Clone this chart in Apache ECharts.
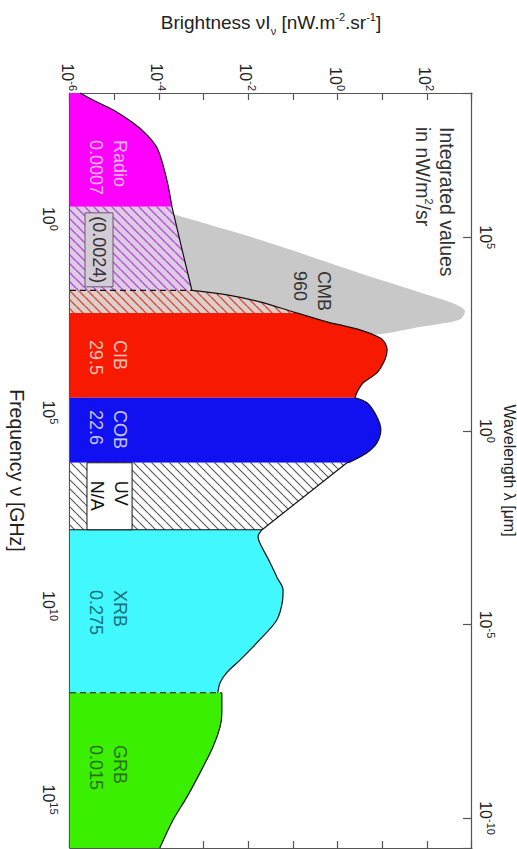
<!DOCTYPE html>
<html>
<head>
<meta charset="utf-8">
<script src="https://cdn.jsdelivr.net/npm/echarts@6/dist/echarts.min.js"></script>
<style>
  html, body { margin: 0; padding: 0; background: #fff; overflow: hidden; width: 517px; height: 849px; }
  /* the figure is laid out landscape and turned a quarter turn clockwise */
  #chart { position: absolute; left: 0; top: 0; width: 849px; height: 517px;
           transform-origin: 0 0; transform: translate(517px, 0) rotate(90deg); }
</style>
</head>
<body>
<div id="chart"></div>
<script>
// Cosmic background spectrum.
// x: log10 of frequency nu [GHz], y: log10 of nu*I_nu [nW m^-2 sr^-1]
const logFreqRange = [-3.25, 16.25];
const logBrightRange = [-6, 3];
const LOG_C_UM_GHZ = Math.log10(2.998e5);   // lambda[um] = c / nu[GHz]

const freqLabelStep = 5;     // labelled decades on the frequency axis
const brightLabelStep = 2;   // labelled decades on the brightness axis
const waveLabelStep = 5;     // labelled decades on the wavelength axis

const cmb = [[-0.90, -6.00], [-0.103, -3.649], [0.542, -1.747], [1.403, 0.492], [2.092, 2.357],
             [2.265, 2.731], [2.394, 2.843], [2.565, 2.769], [2.652, 2.581], [2.823, 1.685],
             [2.952, 1.090], [3.10, 0.00], [3.30, -2.00], [3.50, -6.00]];
const radio = [[-3.25, -5.776], [-3.07, -5.485], [-2.815, -5.037], [-2.48, -4.59], [-2.17, -4.276],
               [-1.834, -4.052], [-1.395, -3.918], [-0.878, -3.806], [-0.31, -3.717]];
const radioExtra = [[-0.31, -3.717], [0.80, -3.49], [1.85, -3.27]];
const cibExtra = [[1.85, -3.27], [1.963, -2.485], [2.144, -1.747], [2.402, -1.008], [2.43, -0.925]];
const cib = [[2.43, -0.925], [2.66, -0.247], [2.867, 0.492], [3.07, 0.94], [3.20, 1.05], [3.38, 1.10],
             [3.64, 1.05], [3.98, 0.87], [4.24, 0.56], [4.47, 0.43], [4.62, 0.38]];
const cob = [[4.62, 0.38], [4.75, 0.65], [5.11, 0.87], [5.45, 0.96], [5.79, 0.87], [6.04, 0.65],
             [6.28, 0.27], [6.30, 0.20]];
const uv = [[6.30, 0.20], [8.03, -1.70]];
const xrb = [[8.03, -1.70], [8.21, -1.79], [8.37, -1.75], [8.88, -1.52], [9.25, -1.37], [9.58, -1.23],
             [9.85, -1.24], [10.36, -1.37], [10.87, -1.75], [11.39, -2.19], [11.72, -2.49],
             [11.98, -2.64], [12.24, -2.69]];
const grb = [[12.24, -2.60], [12.76, -2.60], [13.12, -2.64], [13.64, -2.80], [14.31, -3.09],
             [14.93, -3.38], [15.52, -3.69], [16.25, -3.99]];

// integrated intensities, nW/m^2/sr
const bandNames  = ['Radio', 'CMB', 'CIB', 'COB', 'UV', 'XRB', 'GRB'];
const bandValues = ['0.0007', '960', '29.5', '22.6', 'N/A', '0.275', '0.015'];
const radioExtraValue = '(0.0024)';

// boxed annotations: [logNu0, logI0, logNu1, logI1]
const boxes = [[-0.155, -5.664, 1.756, -5.037], [6.30, -5.62, 8.03, -4.61]];

const FONT = '"Liberation Sans", Arial, Helvetica, sans-serif';

function hatch(bg, fg, size, lw) {
  const c = document.createElement('canvas');
  c.width = size; c.height = size;
  const g = c.getContext('2d');
  g.fillStyle = bg; g.fillRect(0, 0, size, size);
  g.strokeStyle = fg; g.lineWidth = lw;
  for (let k = -1; k <= 1; k++) {
    g.beginPath(); g.moveTo(k * size, size); g.lineTo(k * size + size, 0); g.stroke();
  }
  return { image: c, repeat: 'repeat' };
}

function band(name, data, fill, line) {
  return {
    type: 'line', name: name, data: data, symbol: 'none', smooth: 0.3,
    silent: true, animation: false,
    lineStyle: line === false ? { width: 0, opacity: 0 } : { color: '#111', width: 1.2 },
    areaStyle: { color: fill, opacity: 1, origin: 'start' }
  };
}

function edge(x, top, dashed) {
  return {
    type: 'line', data: [[x, logBrightRange[0]], [x, top]], symbol: 'none', silent: true, animation: false,
    lineStyle: { color: '#111', width: 1.2, type: dashed ? [6, 4] : 'solid' }
  };
}

const supRich = {
  b: { fontSize: 16, fontFamily: FONT, color: '#222', padding: [6, 0, 0, 0] },
  s: { fontSize: 11, fontFamily: FONT, color: '#222', padding: [0, 0, 6, 0] }
};
function powLabel(step) {
  return function (v) {
    const r = Math.round(v);
    if (Math.abs(v - r) > 1e-6 || r % step !== 0) return '';
    return '{b|10}{s|' + r + '}';
  };
}

function bandLabel(i, x, color) {
  return { type: 'text', x: x, y: 409, z: 100, silent: true,
    style: { text: bandNames[i] + '\n' + bandValues[i], fill: color, font: '18px ' + FONT,
             align: 'left', verticalAlign: 'middle', lineHeight: 24 } };
}

const chart = echarts.init(document.getElementById('chart'), null, { renderer: 'svg' });

const option = {
  animation: false,
  backgroundColor: '#fff',
  grid: { left: 93, right: 1, top: 45, bottom: 70, containLabel: false, outerBoundsMode: 'none' },
  xAxis: [
    {
      type: 'value', position: 'bottom', min: logFreqRange[0], max: logFreqRange[1],
      minInterval: 1, maxInterval: 1,
      name: 'Frequency \u03bd [GHz]', nameLocation: 'middle', nameGap: 43,
      nameTextStyle: { fontSize: 19.5, fontFamily: FONT, color: '#222' },
      axisLine: { show: true, onZero: false, lineStyle: { color: '#555', width: 1.2 } },
      axisTick: { show: true, inside: true, length: 8, lineStyle: { color: '#555', width: 1.2 } },
      axisLabel: { margin: 8, formatter: powLabel(freqLabelStep), rich: supRich },
      splitLine: { show: false }
    },
    {
      type: 'value', position: 'top', inverse: true,
      min: LOG_C_UM_GHZ - logFreqRange[1], max: LOG_C_UM_GHZ - logFreqRange[0],
      minInterval: 5, maxInterval: 5,
      name: 'Wavelength \u03bb [\u03bcm]', nameLocation: 'middle', nameGap: 26,
      nameTextStyle: { fontSize: 16, fontFamily: FONT, color: '#222' },
      axisLine: { show: true, onZero: false, lineStyle: { color: '#555', width: 1.2 } },
      axisTick: { show: true, inside: true, length: 9, lineStyle: { color: '#555', width: 1.2 } },
      axisLabel: { margin: 5, formatter: powLabel(waveLabelStep), rich: supRich },
      splitLine: { show: false }
    }
  ],
  yAxis: [
    {
      type: 'value', position: 'left', min: logBrightRange[0], max: logBrightRange[1], interval: 1,
      name: '{t|Brightness \u03bdI}{sub|\u03bd}{t| [nW.m}{sup|-2}{t|.sr}{sup|-1}{t|]}',
      nameLocation: 'middle', nameGap: 56, nameRotate: 90,
      nameTextStyle: {
        rich: {
          t: { fontSize: 19, fontFamily: FONT, color: '#222', padding: [5, 0, 5, 0] },
          sub: { fontSize: 11, fontFamily: FONT, color: '#222', padding: [16, 0, 0, 0] },
          sup: { fontSize: 11, fontFamily: FONT, color: '#222', padding: [0, 0, 12, 0] }
        }
      },
      axisLine: { show: true, onZero: false, lineStyle: { color: '#555', width: 1.2 } },
      axisTick: { show: true, inside: true, length: 7, lineStyle: { color: '#555', width: 1.2 } },
      axisLabel: { margin: 2, formatter: powLabel(brightLabelStep), rich: supRich },
      splitLine: { show: false }
    },
    {
      type: 'value', position: 'right', min: logBrightRange[0], max: logBrightRange[1], interval: 1,
      axisLine: { show: true, onZero: false, lineStyle: { color: '#555', width: 1.2 } },
      axisTick: { show: true, inside: true, length: 7, lineStyle: { color: '#555', width: 1.2 } },
      axisLabel: { show: false },
      splitLine: { show: false }
    }
  ],
  series: [
    band('CMB', cmb, '#c8c8c8', false),
    band('Radio', radio, '#ff00ff'),
    band('Radio (extrapolated)', radioExtra, hatch('#dccce4', '#b84ad8', 9, 1.3)),
    band('CIB (extrapolated)', cibExtra, hatch('#ddcfcc', '#d64a38', 9, 1.3)),
    band('CIB', cib, '#f71a00'),
    band('COB', cob, '#1010f0'),
    band('UV', uv, hatch('#ffffff', '#555555', 9, 1.1)),
    band('XRB', xrb, '#42f8ff'),
    band('GRB', grb, '#3aef00'),
    edge(radioExtra[radioExtra.length - 1][0], radioExtra[radioExtra.length - 1][1], true),
    edge(uv[uv.length - 1][0], uv[uv.length - 1][1], false),
    edge(grb[0][0], grb[0][1], true),
    {
      type: 'custom', coordinateSystem: 'cartesian2d', silent: true, animation: false, z: 10,
      encode: { x: [0, 2], y: [1, 3] },
      data: boxes,
      renderItem: function (params, api) {
        const p0 = api.coord([api.value(0), api.value(1)]);
        const p1 = api.coord([api.value(2), api.value(3)]);
        const x = Math.min(p0[0], p1[0]), y = Math.min(p0[1], p1[1]);
        const w = Math.abs(p1[0] - p0[0]), h = Math.abs(p1[1] - p0[1]);
        const first = params.dataIndex === 0;
        return {
          type: 'group',
          children: [
            { type: 'rect', shape: { x: x, y: y, width: w, height: h },
              style: { fill: first ? '#d3cbd6' : '#ffffff', stroke: first ? '#6a5a70' : '#111', lineWidth: 1 } },
            { type: 'text',
              style: first
                ? { text: radioExtraValue, x: x + w / 2, y: y + h / 2, align: 'center', verticalAlign: 'middle',
                    fill: '#333', font: '18px ' + FONT }
                : { text: bandNames[4] + '\n' + bandValues[4], x: x + 18, y: y + h / 2 + 1, align: 'left',
                    verticalAlign: 'middle', fill: '#111', font: '18px ' + FONT, lineHeight: 24 } }
          ]
        };
      }
    }
  ],
  graphic: [
    bandLabel(0, 140, '#ffb8ff'),
    bandLabel(2, 340, '#ffc2b6'),
    bandLabel(3, 410, '#c6c6ff'),
    bandLabel(5, 590, '#1d6f78'),
    bandLabel(6, 745, '#2b6f16'),
    { type: 'text', x: 271, y: 205, z: 100, silent: true,
      style: { text: bandNames[1] + '\n' + bandValues[1], fill: '#333', font: '18px ' + FONT,
               align: 'left', verticalAlign: 'middle', lineHeight: 24 } },
    { type: 'text', x: 127, y: 82, z: 100, silent: true,
      style: { text: '{t|Integrated values}\n{t|in nW/m}{s|2}{t|/sr}', align: 'left', verticalAlign: 'middle',
               rich: {
                 t: { fontSize: 19.5, fontFamily: FONT, fill: '#333', lineHeight: 24 },
                 s: { fontSize: 11, fontFamily: FONT, fill: '#333', padding: [0, 0, 12, 0] }
               } } }
  ]
};

chart.setOption(option);
</script>
</body>
</html>
